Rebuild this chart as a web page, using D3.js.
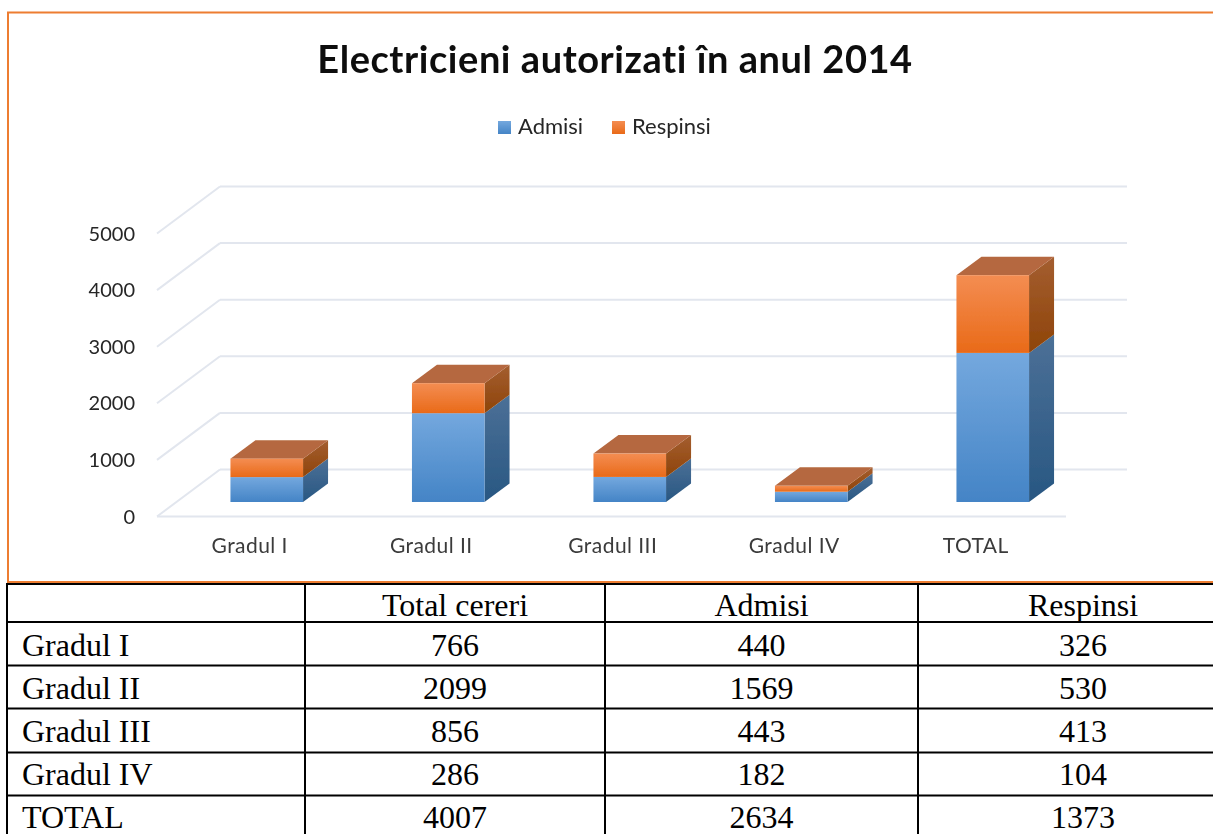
<!DOCTYPE html>
<html><head><meta charset="utf-8">
<script src="https://cdn.jsdelivr.net/npm/d3@7"></script>
<style>html,body{margin:0;padding:0;background:#fff}svg{display:block}</style>
</head><body><svg id="c" width="1213" height="834"></svg>
<script>
const categories = ["Gradul I","Gradul II","Gradul III","Gradul IV","TOTAL"];
const totalCereri = [766,2099,856,286,4007];
const admisi = [440,1569,443,182,2634];
const respinsi = [326,530,413,104,1373];
const yTicks = [0,1000,2000,3000,4000,5000];
const tableHeaders = ["","Total cereri","Admisi","Respinsi"];
const titleText = "Electricieni autorizati în anul 2014";
const legendItems = ["Admisi","Respinsi"];

const svg = d3.select("#c");
const defs = svg.append("defs");
function grad(id,a,b,x2=0,y2=1){
  const g = defs.append("linearGradient").attr("id",id).attr("x1",0).attr("y1",0).attr("x2",x2).attr("y2",y2);
  g.append("stop").attr("offset","0%").attr("stop-color",a);
  g.append("stop").attr("offset","100%").attr("stop-color",b);
}
grad("bf","#74a8de","#4484c6"); grad("of","#f48d52","#e96a18");
grad("bs","#4c7097","#285782"); grad("os","#a45e30","#8e4409");
defs.append("filter").attr("id","soft").attr("x",0).attr("y",0).attr("width","100%").attr("height","100%")
  .append("feGaussianBlur").attr("stdDeviation",0.45);

// frame
svg.append("rect").attr("x",8).attr("y",12.5).attr("width",1215).attr("height",569.5)
  .attr("fill","#fff").attr("stroke","#ed7d31").attr("stroke-width",2);

const y = d3.scaleLinear().domain([0,5000]).range([502,219]);
const x = d3.scaleBand().domain(categories).range([176,1083.5]).paddingInner(0.6).paddingOuter(0.3);
const floorX = [157,1066];
const dep = {x:63,y:-47};   // wall offset from floor front edge
const barDep = {x:25,y:-18.5};
const floorY = 516.5;
const gy = v => y(v)+14.5;

const gridCol = "#e2e6ee";
const chart = svg.append("g").attr("filter","url(#soft)");
const g = chart.append("g");
// front floor edge
g.append("line").attr("x1",floorX[0]).attr("x2",floorX[1]).attr("y1",floorY).attr("y2",floorY)
  .attr("stroke",gridCol).attr("stroke-width",2);
yTicks.forEach(t=>{
  const yy = gy(t);
  g.append("line").attr("x1",floorX[0]).attr("y1",yy).attr("x2",floorX[0]+dep.x).attr("y2",yy+dep.y)
    .attr("stroke",gridCol).attr("stroke-width",2);
  g.append("line").attr("x1",floorX[0]+dep.x).attr("x2",1127).attr("y1",yy+dep.y).attr("y2",yy+dep.y)
    .attr("stroke",gridCol).attr("stroke-width",2);
  chart.append("text").attr("x",135).attr("y",yy+7).attr("text-anchor","end")
    .attr("font-family","Lato").attr("font-size",20).attr("fill","#262626").text(t);
});

// bars
categories.forEach((c,i)=>{
  const x0 = x(c), w = x.bandwidth();
  const poly=(pts,fill)=>g.append("polygon").attr("points",pts.map(p=>p.join(",")).join(" ")).attr("fill",fill);
  const yb = y(0), y1 = y(admisi[i]), y2 = y(admisi[i]+respinsi[i]);
  const d = barDep;
  poly([[x0+w,yb],[x0+w+d.x,yb+d.y],[x0+w+d.x,y1+d.y],[x0+w,y1]],"url(#bs)");
  poly([[x0+w,y1],[x0+w+d.x,y1+d.y],[x0+w+d.x,y2+d.y],[x0+w,y2]],"url(#os)");
  poly([[x0,y2],[x0+w,y2],[x0+w+d.x,y2+d.y],[x0+d.x,y2+d.y]],"#b5683f");
  g.append("rect").attr("x",x0).attr("y",y1).attr("width",w).attr("height",yb-y1).attr("fill","url(#bf)");
  g.append("rect").attr("x",x0).attr("y",y2).attr("width",w).attr("height",y1-y2).attr("fill","url(#of)");
  chart.append("text").attr("x",x0+w/2-17).attr("y",553).attr("text-anchor","middle")
    .attr("font-family","Lato").attr("font-size",21).attr("letter-spacing",0.45).attr("fill","#3a3a3a").text(c);
});

// title
chart.append("text").attr("x",615).attr("y",73).attr("text-anchor","middle")
  .attr("font-family","Lato").attr("font-weight",700).attr("font-size",38).attr("letter-spacing",0.55).attr("fill","#0d0d0d").text(titleText);

// legend
const legendX = [498,612], legendFill = ["url(#bf)","url(#of)"];
legendItems.forEach((t,i)=>{
  chart.append("rect").attr("x",legendX[i]).attr("y",121).attr("width",13).attr("height",13).attr("fill",legendFill[i]);
  chart.append("text").attr("x",legendX[i]+20).attr("y",134).attr("font-family","Lato").attr("font-size",22).attr("fill","#262626").text(t);
});

// table
const colX = [7,305,605,918,1248];
const rowY = [584,622,665.5,708.5,752.5,795.5];
const t = svg.append("g");
const serif = "Liberation Serif";
rowY.forEach(r=>t.append("line").attr("x1",6).attr("x2",1213).attr("y1",r).attr("y2",r).attr("stroke","#000").attr("stroke-width",2));
colX.slice(0,4).forEach(cx=>t.append("line").attr("x1",cx).attr("x2",cx).attr("y1",583).attr("y2",834).attr("stroke","#000").attr("stroke-width",2));
const cell=(txt,col,row,left)=>{
  t.append("text").attr("x",left?22:(colX[col]+colX[col+1])/2).attr("y",[616,656,699,742,785,828][row])
   .attr("text-anchor",left?"start":"middle").attr("font-family",serif).attr("font-size",32).attr("fill","#000").text(txt);
};
tableHeaders.forEach((h,c)=>{ if(h) cell(h,c,0,false); });
categories.forEach((c,i)=>{
  cell(c,0,i+1,true);
  cell(totalCereri[i],1,i+1,false);
  cell(admisi[i],2,i+1,false);
  cell(respinsi[i],3,i+1,false);
});
</script></body></html>
